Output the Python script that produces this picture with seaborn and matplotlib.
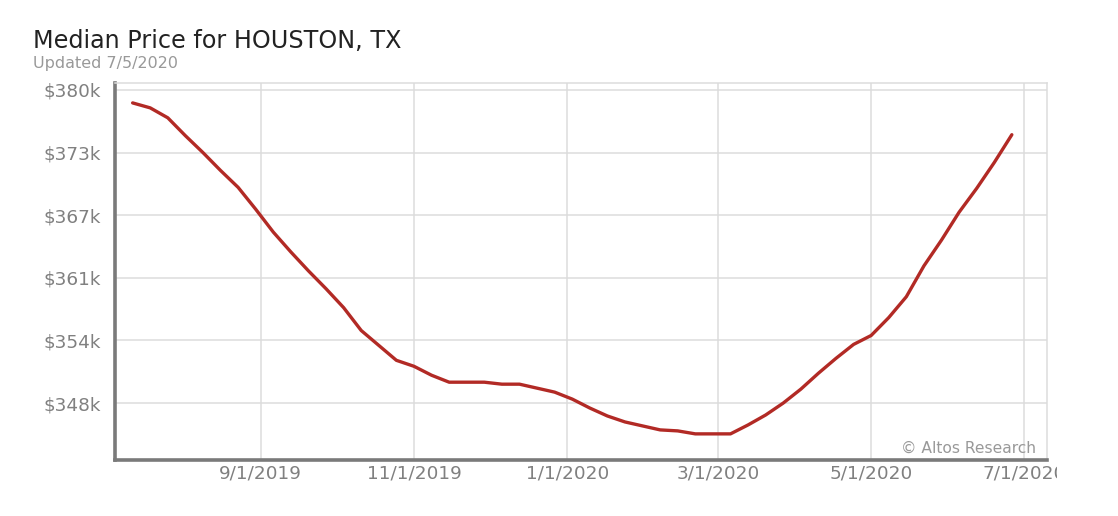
import pandas as pd
import matplotlib.pyplot as plt
from matplotlib.transforms import Bbox, TransformedBbox
import seaborn as sns

# Weekly median price (thousands of dollars)
weeks = pd.date_range("2019-07-12", periods=51, freq="7D")
price_k = [378.2, 377.7, 376.7, 374.9, 373.2, 371.4, 369.7, 367.5, 365.2, 363.2,
           361.3, 359.5, 357.6, 355.3, 353.8, 352.3, 351.7, 350.8, 350.1, 350.1,
           350.1, 349.9, 349.9, 349.5, 349.1, 348.4, 347.5, 346.7, 346.1, 345.7,
           345.3, 345.2, 344.9, 344.9, 344.9, 345.8, 346.8, 348.0, 349.4, 351.0,
           352.5, 353.9, 354.8, 356.6, 358.7, 361.8, 364.4, 367.2, 369.6, 372.2,
           375.0]

y_ticks = [348.0, 354.3, 360.6, 366.9, 373.2, 379.5]
y_labels = ["$348k", "$354k", "$361k", "$367k", "$373k", "$380k"]
x_ticks = ["2019-09-01", "2019-11-01", "2020-01-01", "2020-03-01", "2020-05-01", "2020-07-01"]
x_labels = ["9/1/2019", "11/1/2019", "1/1/2020", "3/1/2020", "5/1/2020", "7/1/2020"]

df = pd.DataFrame({"week": weeks, "price": price_k})

sns.set_style("white")
plt.rcParams["font.family"] = ["DejaVu Sans"]

fig = plt.figure(figsize=(11.18, 5.16), dpi=100)
ax = fig.add_axes([0.1029, 0.1085, 0.8336, 0.7306])

sns.lineplot(data=df, x="week", y="price", color="#b22a25", linewidth=2.4, ax=ax)

ax.set_ylim(342.27, 380.2)
ax.set_xlim(pd.Timestamp("2019-07-05"), pd.Timestamp("2020-07-10"))
ax.set_yticks(y_ticks)
ax.set_yticklabels(y_labels)
ax.set_xticks(pd.to_datetime(x_ticks))
ax.set_xticklabels(x_labels)
ax.set_xlabel("")
ax.set_ylabel("")

ax.grid(True, color="#dcdcdc", linewidth=1.1)
ax.tick_params(length=0, labelsize=13.3, labelcolor="#808080", pad=10)
ax.tick_params(axis="x", pad=3)

for side in ["left", "bottom"]:
    ax.spines[side].set_color("#7a7a7a")
    ax.spines[side].set_linewidth(2.6)
for side in ["top", "right"]:
    ax.spines[side].set_color("#dcdcdc")
    ax.spines[side].set_linewidth(1.1)

fig.text(0.0295, 0.907, "Median Price for HOUSTON, TX", fontsize=17.2, color="#222222")
fig.text(0.0295, 0.869, "Updated 7/5/2020", fontsize=11.5, color="#999999")
ax.text(0.988, 0.012, "© Altos Research", transform=ax.transAxes, ha="right", va="bottom",
        fontsize=11.2, color="#999999")

# the last date label is cut off at the chart edge in the original
clip = TransformedBbox(Bbox([[0, 0], [1057 / 1118, 1]]), fig.transFigure)
for lab in ax.get_xticklabels():
    lab.set_clip_on(True)
    lab.set_clip_box(clip)

fig.savefig("out.png", dpi=100)
